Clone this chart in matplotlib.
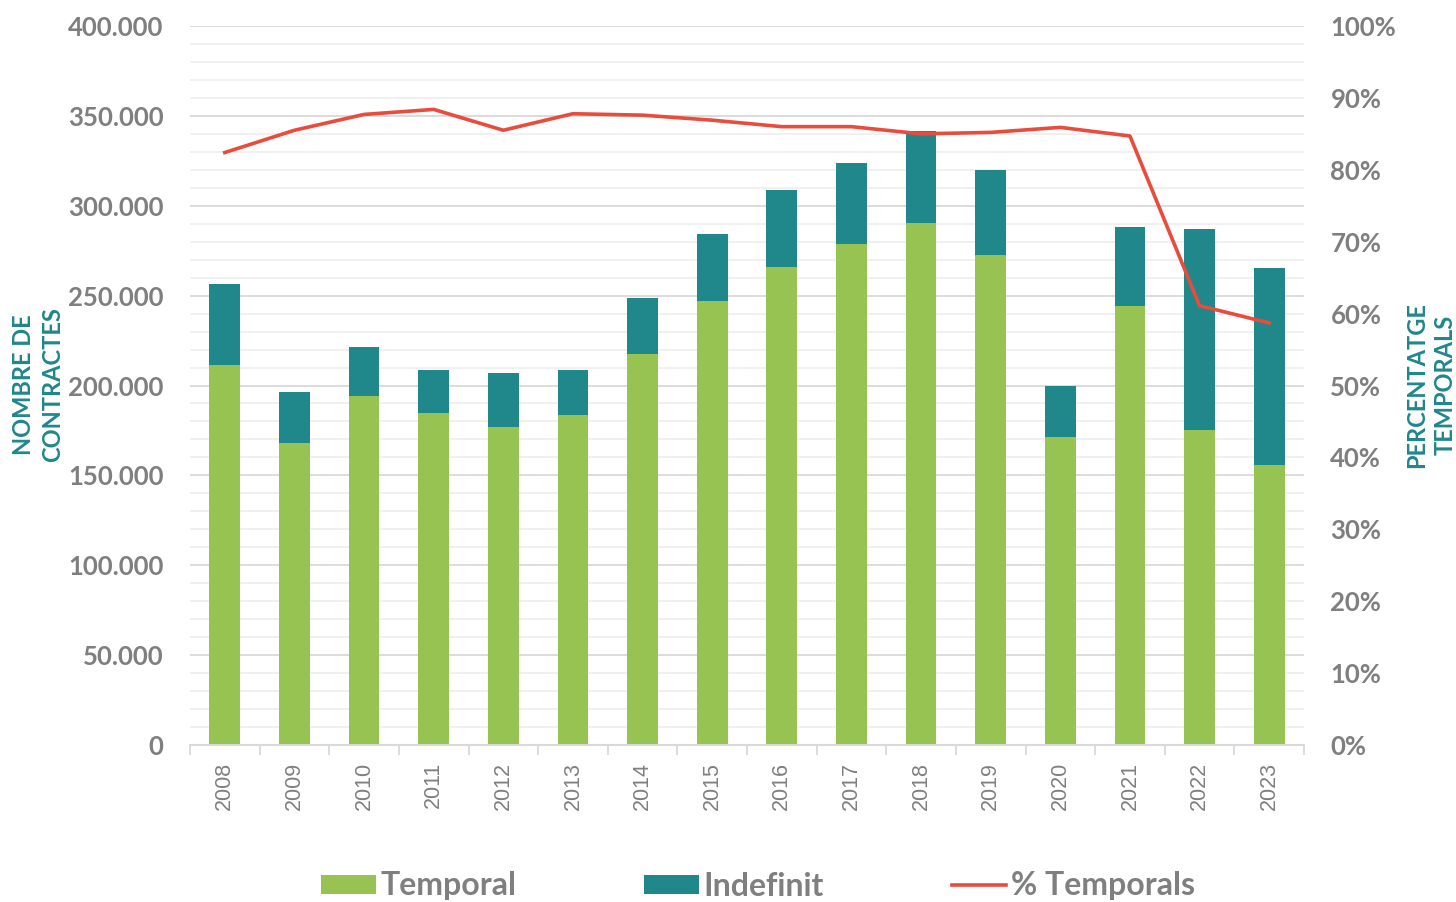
import numpy as np
import matplotlib
matplotlib.use('Agg')
import matplotlib.pyplot as plt
from matplotlib.ticker import FuncFormatter, MultipleLocator

years = ['2008', '2009', '2010', '2011', '2012', '2013', '2014', '2015',
         '2016', '2017', '2018', '2019', '2020', '2021', '2022', '2023']
temporal = [211300, 168100, 194100, 184600, 176800, 183500, 217800, 246900,
            265800, 278600, 290300, 272500, 171300, 244000, 175300, 155700]
indefinit = [45400, 28400, 27100, 24300, 30100, 25400, 30800, 37300,
             43200, 45400, 51300, 47300, 28200, 44100, 111600, 109400]
pct_temporals = [82.4, 85.5, 87.7, 88.4, 85.5, 87.8, 87.6, 86.9,
                 86.0, 86.0, 85.0, 85.2, 85.9, 84.7, 61.1, 58.7]

GREEN = '#97C353'
TEAL = '#20878A'
RED = '#E84C3D'
GREY = '#7F7F7F'

plt.rcParams['font.family'] = ['Lato', 'DejaVu Sans']

fig = plt.figure(figsize=(14.56, 9.02), dpi=100)
ax = fig.add_axes([190 / 1456, 157 / 902, 1114 / 1456, 719 / 902])

x = np.arange(len(years))
ax.bar(x, temporal, 0.44, color=GREEN, label='Temporal', zorder=2)
ax.bar(x, indefinit, 0.44, bottom=temporal, color=TEAL, label='Indefinit', zorder=2)

ax.set_xlim(-0.5, len(years) - 0.5)
ax.set_ylim(0, 400000)
ax.yaxis.set_major_locator(MultipleLocator(50000))
ax.yaxis.set_minor_locator(MultipleLocator(10000))
ax.yaxis.set_major_formatter(FuncFormatter(lambda v, p: f'{v:,.0f}'.replace(',', '.')))
ax.grid(which='major', axis='y', color='#D9D9D9', lw=1.3)
ax.grid(which='minor', axis='y', color='#EFEFEF', lw=1.3)
ax.set_axisbelow(True)

ax.set_xticks(x)
ax.set_xticklabels(years, rotation=90, fontsize=15.5, color=GREY,
                   family=['Liberation Sans', 'DejaVu Sans'])
ax.set_xticks(np.arange(-0.5, len(years)), minor=True)
ax.tick_params(axis='x', which='major', length=0, pad=12)
ax.tick_params(axis='x', which='minor', length=7, color='#D9D9D9', width=1.3)
ax.tick_params(axis='y', which='both', length=0, pad=19, labelsize=18.5, labelcolor=GREY)
for t in ax.get_yticklabels():
    t.set_fontweight('bold')
for s in ['top', 'left', 'right']:
    ax.spines[s].set_visible(False)
ax.spines['bottom'].set_color('#D9D9D9')
ax.spines['bottom'].set_linewidth(1.5)

ax2 = ax.twinx()
ax2.plot(x, pct_temporals, color=RED, lw=2.6, label='% Temporals', zorder=3)
ax2.set_ylim(0, 100)
ax2.yaxis.set_major_locator(MultipleLocator(10))
ax2.yaxis.set_major_formatter(FuncFormatter(lambda v, p: f'{v:.0f}%'))
ax2.tick_params(axis='y', length=0, pad=19, labelsize=18.5, labelcolor=GREY)
for t in ax2.get_yticklabels():
    t.set_fontweight('bold')
for s in ax2.spines.values():
    s.set_visible(False)

fig.text(38 / 1456, 1 - 385 / 902, 'NOMBRE DE\nCONTRACTES', rotation=90,
         ha='center', va='center', multialignment='center', color=TEAL,
         fontsize=17, fontweight='bold', linespacing=1.3)
fig.text(1431 / 1456, 1 - 385 / 902, 'PERCENTATGE\nTEMPORALS', rotation=90,
         ha='center', va='center', multialignment='center', color=TEAL,
         fontsize=17, fontweight='bold', linespacing=1.3)

h1, l1 = ax.get_legend_handles_labels()
h2, l2 = ax2.get_legend_handles_labels()
fig.legend(h1 + h2, l1 + l2, loc='center', bbox_to_anchor=(758 / 1456, 1 - 886 / 902),
           ncol=3, frameon=False, prop={'family': 'Lato', 'weight': 'bold', 'size': 23},
           labelcolor=GREY, handlelength=1.7, handleheight=0.55, handletextpad=0.15,
           columnspacing=4.0)

fig.savefig('out.png', dpi=100)
